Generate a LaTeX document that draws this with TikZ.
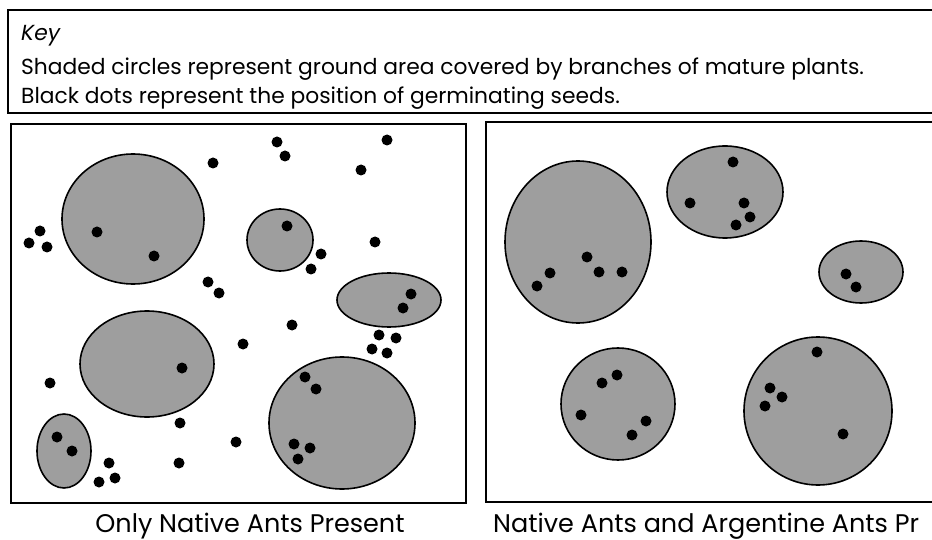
\documentclass[tikz,border=0pt]{standalone}
\usepackage{fontspec}
\setmainfont{Poppins}
\usetikzlibrary{shapes.geometric}
\begin{document}
\begin{tikzpicture}[x=1pt,y=-1pt,
  plant/.style={ellipse, draw=black, line width=1.6pt, fill=black!38, inner sep=0pt},
  seed/.style={circle, fill=black, inner sep=0pt, minimum size=11pt},
  frame/.style={draw=black, line width=1.7pt},
  keytext/.style={anchor=base west, inner sep=0pt, font=\fontsize{21.8}{24}\selectfont},
  label/.style={anchor=base, inner sep=0pt, font=\fontsize{25.5}{28}\selectfont}]
\useasboundingbox (0,0) rectangle (932,540);
% key box
\draw[frame] (8,10) rectangle (950,113);
\node[keytext] (k1) at (21,41) {\itshape Key};
\node[keytext] (k2) at (21,75) {Shaded circles represent ground area covered by branches of mature plants.};
\node[keytext] (k3) at (21,104) {Black dots represent the position of germinating seeds.};
% panels
\draw[frame] (11,124) rectangle (466,503);
\draw[frame] (486,122) rectangle (950,502);
% left panel plants
\node[plant, minimum width=142pt, minimum height=130pt] (L1) at (133,219) {};
\node[plant, minimum width=66pt, minimum height=62pt] (L2) at (280,240) {};
\node[plant, minimum width=104pt, minimum height=54pt] (L3) at (389,300) {};
\node[plant, minimum width=134pt, minimum height=106pt] (L4) at (147,364) {};
\node[plant, minimum width=54pt, minimum height=74pt] (L5) at (64,451) {};
\node[plant, minimum width=146pt, minimum height=132pt] (L6) at (342,423) {};
% left panel seeds
\foreach \n/\x/\y in {a1/97/232, a2/154/256, a3/40/231, a4/29/243, a5/47/247,
  a6/208/282, a7/219/293, a8/213/163, a9/277/142, a10/285/156, a11/387/140,
  a12/361/170, a13/375/242, a14/287/226, a15/321/254, a16/311/269,
  a17/411/294, a18/403/308, a19/182/368, a20/50/383, a21/57/437, a22/72/451,
  a23/109/463, a24/115/478, a25/99/482, a26/180/423, a27/179/463, a28/236/442,
  a29/243/344, a30/292/325, a31/379/335, a32/396/338, a33/372/349, a34/387/353,
  a35/305/377, a36/316/389, a37/294/444, a38/310/448, a39/298/459}
  \node[seed] (\n) at (\x,\y) {};
% right panel plants
\node[plant, minimum width=146pt, minimum height=162pt] (R1) at (578,242) {};
\node[plant, minimum width=116pt, minimum height=92pt] (R2) at (725,192) {};
\node[plant, minimum width=84pt, minimum height=62pt] (R3) at (861,272) {};
\node[plant, minimum width=114pt, minimum height=112pt] (R4) at (618,404) {};
\node[plant, minimum width=148pt, minimum height=148pt] (R5) at (818,411) {};
% right panel seeds
\foreach \n/\x/\y in {b1/587/257, b2/550/273, b3/537/286, b4/599/272, b5/622/272,
  b6/690/203, b7/733/162, b8/744/203, b9/750/217, b10/736/225,
  b11/846/274, b12/856/287,
  b13/602/383, b14/617/375, b15/581/415, b16/646/421, b17/632/435,
  b18/817/352, b19/770/388, b20/782/397, b21/765/406, b22/843/434}
  \node[seed] (\n) at (\x,\y) {};
% captions
\node[label] (c1) at (250,532) {Only Native Ants Present};
\node[label, anchor=base west] (c2) at (493,532) {Native Ants and Argentine Ants Pr};
\end{tikzpicture}
\end{document}
